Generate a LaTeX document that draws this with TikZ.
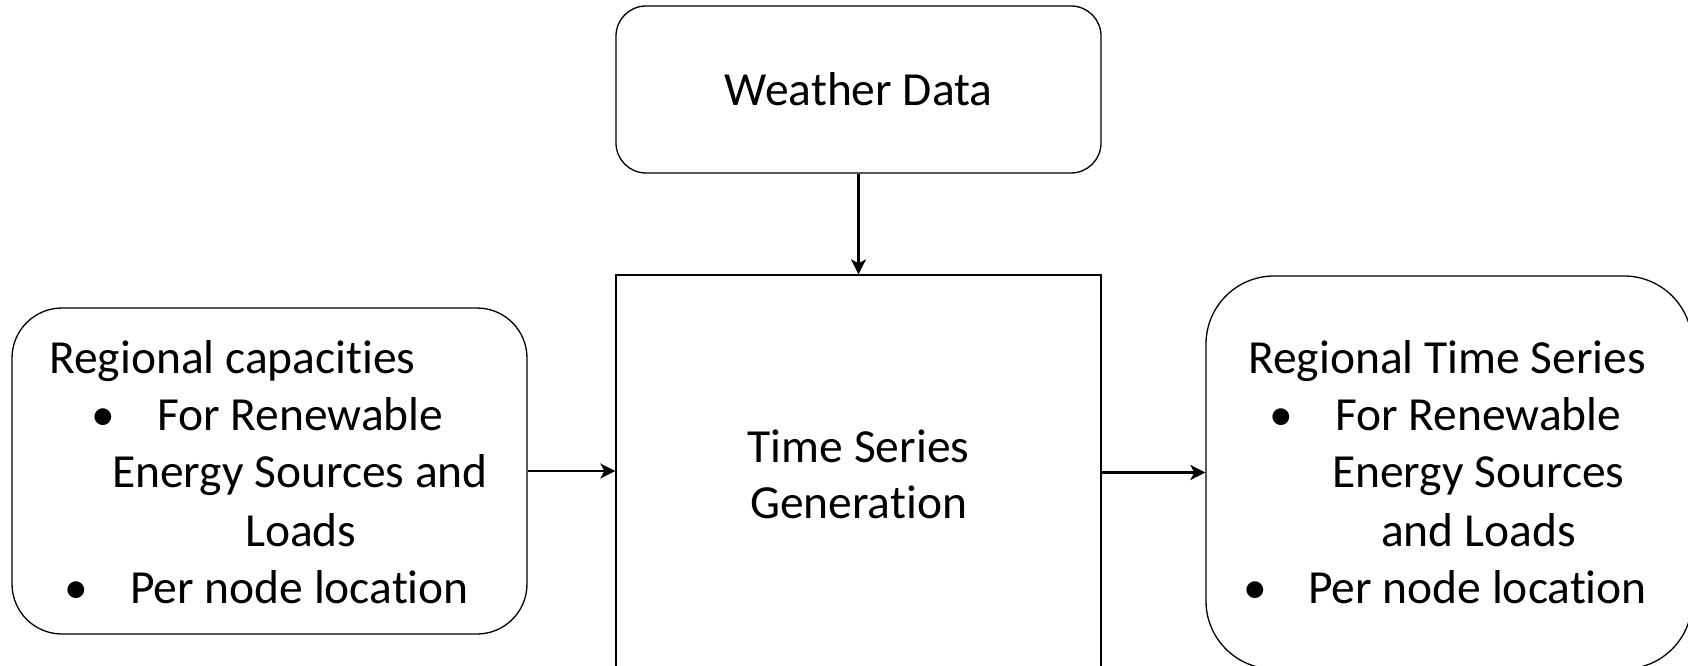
\documentclass[tikz,border=0pt]{standalone}
\usepackage{fontspec}
\setmainfont[Ligatures={NoCommon}]{Carlito}
\usetikzlibrary{arrows.meta}
\begin{document}
\begin{tikzpicture}[x=1pt,y=-1pt,
  box/.style={draw=black, line width=1.3pt, inner sep=0pt, rectangle},
  txt/.style={inner sep=0pt, anchor=base west, font=\fontsize{47.5}{57}\selectfont},
  ctxt/.style={inner sep=0pt, anchor=base, font=\fontsize{47.5}{57}\selectfont},
  conn/.style={line width=2.4pt, -{Stealth[length=15pt,width=15pt,inset=4pt]}}
]
\useasboundingbox (0,0) rectangle (1688,666);
\clip (0,0) rectangle (1688,666);
% boxes
\node[box, rounded corners=30pt, minimum width=485pt, minimum height=167pt] (weather) at (858.5,89.5) {};
\node[box, minimum width=485pt, minimum height=445pt] (gen) at (858.5,497.5) {};
\node[box, rounded corners=50pt, minimum width=515pt, minimum height=326pt] (left) at (269.5,471) {};
\node[box, rounded corners=68pt, minimum width=486pt, minimum height=393pt] (right) at (1449,472.5) {};
% texts
\node[ctxt] (wt) at (858.5,106) {Weather Data};
\node[ctxt] (g1) at (858.5,462) {Time Series};
\node[ctxt] (g2) at (858.5,518) {Generation};
\node[txt] (l1) at (49,373) {Regional capacities};
\node[ctxt] (lb1) at (103,430) {•};
\node[txt] (l2) at (157,430) {For Renewable};
\node[txt] (l3) at (112,487) {Energy Sources and};
\node[txt] (l4) at (245,546) {Loads};
\node[ctxt] (lb2) at (76,603) {•};
\node[txt] (l5) at (130,603) {Per node location};
\node[txt] (r1) at (1248,373) {Regional Time Series};
\node[ctxt] (rb1) at (1281,430) {•};
\node[txt] (r2) at (1335,430) {For Renewable};
\node[txt] (r3) at (1332,487) {Energy Sources};
\node[txt] (r4) at (1381,546) {and Loads};
\node[ctxt] (rb2) at (1255,603) {•};
\node[txt] (r5) at (1308,603) {Per node location};
% connectors
\draw[conn] (weather.south) -- (gen.north);
\draw[conn] (left.east) -- (left.east -| gen.west);
\draw[conn] (right.west -| gen.east) -- (right.west);
\end{tikzpicture}
\end{document}
